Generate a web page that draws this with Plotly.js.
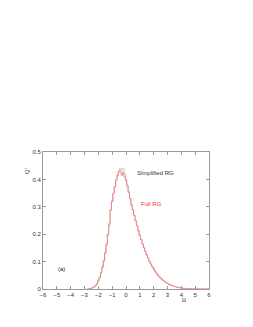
<!DOCTYPE html>
<html><head><meta charset="utf-8">
<script src="https://cdn.plot.ly/plotly-3.0.1.min.js"></script>
<style>html,body{margin:0;padding:0;background:#fff;}#c{width:253px;height:327px;}</style>
</head><body><div id="c"></div>
<script>
const binCenters = [-2.8,-2.7,-2.6,-2.5,-2.4,-2.3,-2.2,-2.1,-2.0,-1.9,-1.8,-1.7,-1.6,-1.5,-1.4,-1.3,-1.2,-1.1,-1.0,-0.9,-0.8,-0.7,-0.6,-0.5,-0.4,-0.3,-0.2,-0.1,0.0,0.1,0.2,0.3,0.4,0.5,0.6,0.7,0.8,0.9,1.0,1.1,1.2,1.3,1.4,1.5,1.6,1.7,1.8,1.9,2.0,2.1,2.2,2.3,2.4,2.5,2.6,2.7,2.8,2.9,3.0,3.1,3.2,3.3,3.4,3.5,3.6,3.7,3.8,3.9,4.0,4.1,4.2,4.3,4.4,4.5,4.6,4.7,4.8,4.9,5.0,5.2,5.4,5.6,5.8,6.0];
const simplifiedRG = [0,0.001,0.001,0.002,0.004,0.007,0.011,0.018,0.027,0.040,0.056,0.077,0.100,0.128,0.160,0.196,0.232,0.290,0.322,0.350,0.376,0.400,0.420,0.432,0.441,0.436,0.440,0.422,0.402,0.380,0.356,0.332,0.310,0.290,0.270,0.250,0.232,0.214,0.197,0.181,0.166,0.152,0.138,0.125,0.113,0.102,0.092,0.083,0.074,0.066,0.059,0.052,0.046,0.041,0.036,0.032,0.028,0.024,0.021,0.018,0.016,0.014,0.012,0.010,0.008,0.007,0.006,0.005,0.004,0.003,0.003,0.002,0.002,0.0015,0.001,0.001,0.0008,0.0006,0.0005,0.0004,0.0003,0.0002,0.0001,0];
const fullRG = [0,0.001,0.002,0.003,0.005,0.008,0.013,0.020,0.030,0.043,0.060,0.081,0.104,0.133,0.165,0.200,0.238,0.288,0.318,0.348,0.372,0.396,0.414,0.428,0.432,0.415,0.425,0.410,0.396,0.376,0.352,0.330,0.306,0.288,0.268,0.248,0.230,0.212,0.195,0.180,0.164,0.150,0.137,0.124,0.112,0.101,0.091,0.082,0.073,0.065,0.058,0.051,0.045,0.040,0.035,0.031,0.027,0.023,0.020,0.017,0.015,0.013,0.011,0.009,0.008,0.006,0.005,0.004,0.004,0.003,0.002,0.002,0.0015,0.001,0.001,0.0008,0.0006,0.0005,0.0004,0.0003,0.0002,0.0001,0,0];
const xTicks = [-6,-5,-4,-3,-2,-1,0,1,2,3,4,5,6];
const yTicks = [0,0.1,0.2,0.3,0.4,0.5];
const FONT = 'Liberation Sans, Arial, sans-serif';

const traces = [
  {x: binCenters, y: simplifiedRG, type:'scatter', mode:'lines', line:{shape:'hvh', color:'#c4c4c4', width:0.9}, name:'Simplified RG'},
  {x: binCenters, y: fullRG, type:'scatter', mode:'lines', line:{shape:'hvh', color:'#f07c7c', width:0.9}, name:'Full RG'}
];
const axisCommon = {showline:true, linecolor:'#999', linewidth:1, mirror:'allticks', ticks:'inside', ticklen:3, tickcolor:'#999', showgrid:false, zeroline:false, tickfont:{family:FONT, size:6, color:'#333'}};
const plotW = 253-43-44, plotH = 327-152-38;
const layout = {
  width:253, height:327, showlegend:false,
  margin:{l:43, r:44, t:152, b:38, pad:0},
  paper_bgcolor:'#fff', plot_bgcolor:'#fff',
  xaxis: Object.assign({}, axisCommon, {range:[-6,6], tickvals:xTicks, ticktext:xTicks.map(v=>v<0?'\u2212'+(-v):String(v))}),
  yaxis: Object.assign({}, axisCommon, {range:[0,0.5], tickvals:yTicks, ticktext:yTicks.map(v=>v===0?'0':v.toFixed(1))}),
  annotations:[
    {x:0.65, y:0.424, xref:'x', yref:'y', text:'Simplified RG', showarrow:false, xanchor:'left', font:{family:FONT, size:6, color:'#333'}},
    {x:0.94, y:0.31, xref:'x', yref:'y', text:'Full RG', showarrow:false, xanchor:'left', font:{family:FONT, size:6, color:'#f03030'}},
    {x:-4.63, y:0.073, xref:'x', yref:'y', text:'(a)', showarrow:false, font:{family:FONT, size:6, color:'#222'}},
    {x:(22-43)/plotW, y:(327-38-166)/plotH, xref:'paper', yref:'paper', text:"Q'", showarrow:false, textangle:-90, font:{family:FONT, size:6, color:'#333'}},
    {x:(188-43)/plotW, y:(327-38-305)/plotH, xref:'paper', yref:'paper', text:'u', showarrow:false, font:{family:FONT, size:7, color:'#333'}}
  ]
};
Plotly.newPlot('c', traces, layout, {displayModeBar:false, staticPlot:true});
</script></body></html>
